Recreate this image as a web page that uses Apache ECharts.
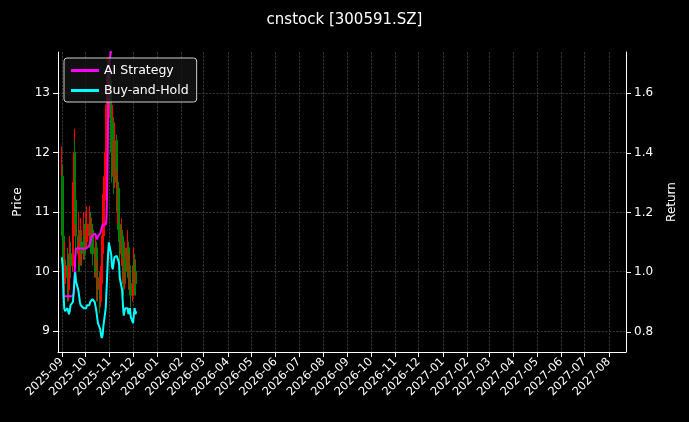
<!DOCTYPE html>
<html><head><meta charset="utf-8">
<script src="https://cdn.jsdelivr.net/npm/echarts@6/dist/echarts.min.js"></script>
<style>html,body{margin:0;background:#000}#c{width:689px;height:422px}</style>
</head><body><div id="c"></div>
<script>
const startDate = '2025-09-01';
const tradingDayCount = 70;
// [open, close, low, high]
const ohlc = [
[11.0,11.7,10.6,12.1],[11.6,10.6,10.2,11.8],[10.6,10.2,9.9,10.9],[10.2,9.8,9.6,10.3],[9.8,10.1,9.6,10.5],
[10.1,9.9,9.7,10.4],[9.9,9.7,9.5,10.0],[9.7,9.9,9.5,10.2],[9.9,10.3,9.8,10.6],[10.3,10.1,9.9,10.5],
[10.1,10.6,10.0,11.0],[10.6,11.5,10.5,11.9],[11.5,12.0,11.2,12.4],[12.0,11.2,10.8,12.2],[11.2,10.6,10.3,11.3],
[10.6,10.3,10.0,10.8],[10.3,10.6,10.1,11.0],[10.6,10.2,10.0,10.7],[10.2,10.5,10.1,10.9],[10.5,10.3,10.1,10.7],
[10.3,10.6,10.2,11.0],[10.6,10.4,10.2,10.8],[10.4,10.7,10.3,11.0],[10.7,10.5,10.3,10.9],[10.5,10.8,10.4,11.1],
[10.8,10.6,10.4,11.0],[10.6,10.9,10.5,11.1],[10.9,10.5,10.3,11.0],[10.5,10.7,10.3,10.9],[10.7,10.3,10.1,10.8],
[10.3,10.1,9.9,10.4],[10.1,10.4,9.9,10.6],[10.4,10.0,9.7,10.5],[10.0,9.7,9.5,10.1],[9.7,9.9,9.5,10.2],
[9.9,9.5,9.3,10.0],[9.5,9.8,9.4,10.1],[9.8,10.3,9.7,10.5],[10.3,10.6,10.2,10.9],[10.6,11.3,10.5,11.6],
[11.3,12.0,11.2,12.4],[12.0,12.8,11.8,13.1],[12.8,13.3,12.5,13.6],[13.3,12.6,12.2,13.5],[12.6,13.2,12.4,13.6],
[13.2,12.4,12.0,13.4],[12.4,11.8,11.5,12.6],[11.8,12.5,11.6,12.8],[12.5,11.6,11.3,12.6],[11.6,12.2,11.4,12.5],
[12.2,11.5,11.2,12.3],[11.5,11.0,10.7,11.6],[11.0,11.4,10.8,11.7],[11.4,10.8,10.5,11.5],[10.8,10.3,10.1,10.9],
[10.3,10.6,10.1,10.9],[10.6,10.1,9.8,10.7],[10.1,9.8,9.6,10.2],[9.8,10.2,9.7,10.5],[10.2,10.0,9.8,10.4],
[10.0,10.4,9.9,10.7],[10.4,9.9,9.7,10.5],[9.9,10.1,9.7,10.3],[10.1,9.8,9.6,10.2],[9.8,9.6,9.4,9.9],
[9.6,9.9,9.5,10.1],[9.9,10.2,9.8,10.4],[10.2,9.8,9.6,10.3],[9.8,10.0,9.6,10.2],[10.0,9.8,9.6,10.1]
];
const buyHold = [1.05,1.02,0.93,0.88,0.87,0.88,0.87,0.86,0.87,0.89,
0.90,0.93,0.97,1.00,0.97,0.94,0.92,0.90,0.89,0.89,
0.88,0.88,0.88,0.88,0.89,0.89,0.90,0.90,0.90,0.91,
0.90,0.90,0.87,0.85,0.83,0.81,0.79,0.78,0.79,0.82,
0.88,0.94,1.00,1.06,1.10,1.06,1.02,1.01,1.03,1.05,
1.055,1.05,1.04,1.03,0.98,0.94,0.89,0.855,0.87,0.88,
0.88,0.86,0.87,0.88,0.85,0.83,0.86,0.88,0.86,0.87];
const aiStrategy = [null,0.92,0.92,0.92,0.92,0.92,0.92,0.92,0.92,0.92,
0.92,0.93,0.97,1.05,1.08,1.08,1.08,1.08,1.08,1.08,
1.08,1.08,1.08,1.08,1.08,1.09,1.10,1.11,1.12,1.12,
1.13,1.13,1.12,1.11,1.12,1.13,1.14,1.15,1.16,1.16,
1.16,1.18,1.30,1.50,1.68,1.75,1.78];

const dates = [];
{ const d = new Date(startDate+'T00:00:00Z');
  while (dates.length < tradingDayCount) { const w=d.getUTCDay(); if (w!==0&&w!==6) dates.push(d.toISOString().slice(0,10)); d.setUTCDate(d.getUTCDate()+1); } }

const candleData = dates.map((d,i)=>[d, ohlc[i][0], ohlc[i][1], ohlc[i][2], ohlc[i][3]]);
const bhData = dates.map((d,i)=>[d, buyHold[i]]);
const aiData = aiStrategy.map((v,i)=>[dates[i], v]).filter(p=>p[1]!==null);

const txt = '#ffffff';
const split = {show:true,lineStyle:{color:'#555',type:'dashed',width:0.6}};
const DAY = 86400000;
const chart = echarts.init(document.getElementById('c'));
chart.setOption({
  backgroundColor:'#000',
  animation:false,
  title:{text:'cnstock [300591.SZ]',left:'center',top:8,textStyle:{color:txt,fontSize:15,fontWeight:'normal',fontFamily:'DejaVu Sans'}},
  legend:{left:64,top:58,orient:'vertical',itemGap:7,itemWidth:28,itemHeight:3,backgroundColor:'rgba(20,20,20,0.8)',borderColor:'#ccc',borderWidth:1,borderRadius:3,padding:[6,8,5,7],
    textStyle:{color:txt,fontSize:12.5,fontFamily:'DejaVu Sans'},data:[{name:'AI Strategy',icon:'rect'},{name:'Buy-and-Hold',icon:'rect'}]},
  grid:{left:58,right:63,top:52,bottom:70},
  xAxis:{type:'time',min:'2025-08-27',max:'2027-08-23',minInterval:28*DAY,maxInterval:31*DAY,
    axisLine:{lineStyle:{color:'#fff'}},axisTick:{show:true,lineStyle:{color:'#fff'}},
    splitLine:split,
    axisLabel:{color:txt,rotate:45,fontSize:11.5,fontFamily:'DejaVu Sans',hideOverlap:false,showMinLabel:false,showMaxLabel:false,
      formatter:v=>{const d=new Date(v);return d.getFullYear()+'-'+String(d.getMonth()+1).padStart(2,'0');}}
  },
  yAxis:[
    {type:'value',name:'Price',nameLocation:'middle',nameGap:34,nameTextStyle:{color:txt,fontSize:12,fontFamily:'DejaVu Sans'},
     min:8.65,max:13.69,
     axisLabel:{color:txt,fontSize:12,fontFamily:'DejaVu Sans',customValues:[9,10,11,12,13]},
     axisTick:{show:true,customValues:[9,10,11,12,13]},
     axisLine:{show:true,lineStyle:{color:'#fff'}},splitLine:split},
    {type:'value',name:'Return',nameLocation:'middle',nameGap:40,nameTextStyle:{color:txt,fontSize:12,fontFamily:'DejaVu Sans'},
     min:0.7333,max:1.7373,
     axisLabel:{color:txt,fontSize:12,fontFamily:'DejaVu Sans',customValues:[0.8,1.0,1.2,1.4,1.6],formatter:v=>v.toFixed(1)},
     axisTick:{show:true,customValues:[0.8,1.0,1.2,1.4,1.6]},
     axisLine:{show:true,lineStyle:{color:'#fff'}},splitLine:{show:false}}
  ],
  series:[
    {type:'candlestick',yAxisIndex:0,data:candleData,barMaxWidth:2,
     itemStyle:{color:'#ff0000',color0:'#008000',borderColor:'#ff0000',borderColor0:'#008000',borderWidth:1},z:1},
    {name:'AI Strategy',type:'line',yAxisIndex:1,data:aiData,showSymbol:false,lineStyle:{color:'#ff00ff',width:2},itemStyle:{color:'#ff00ff'},z:3},
    {name:'Buy-and-Hold',type:'line',yAxisIndex:1,data:bhData,showSymbol:false,lineStyle:{color:'#00ffff',width:2},itemStyle:{color:'#00ffff'},z:3}
  ]
});
</script></body></html>
